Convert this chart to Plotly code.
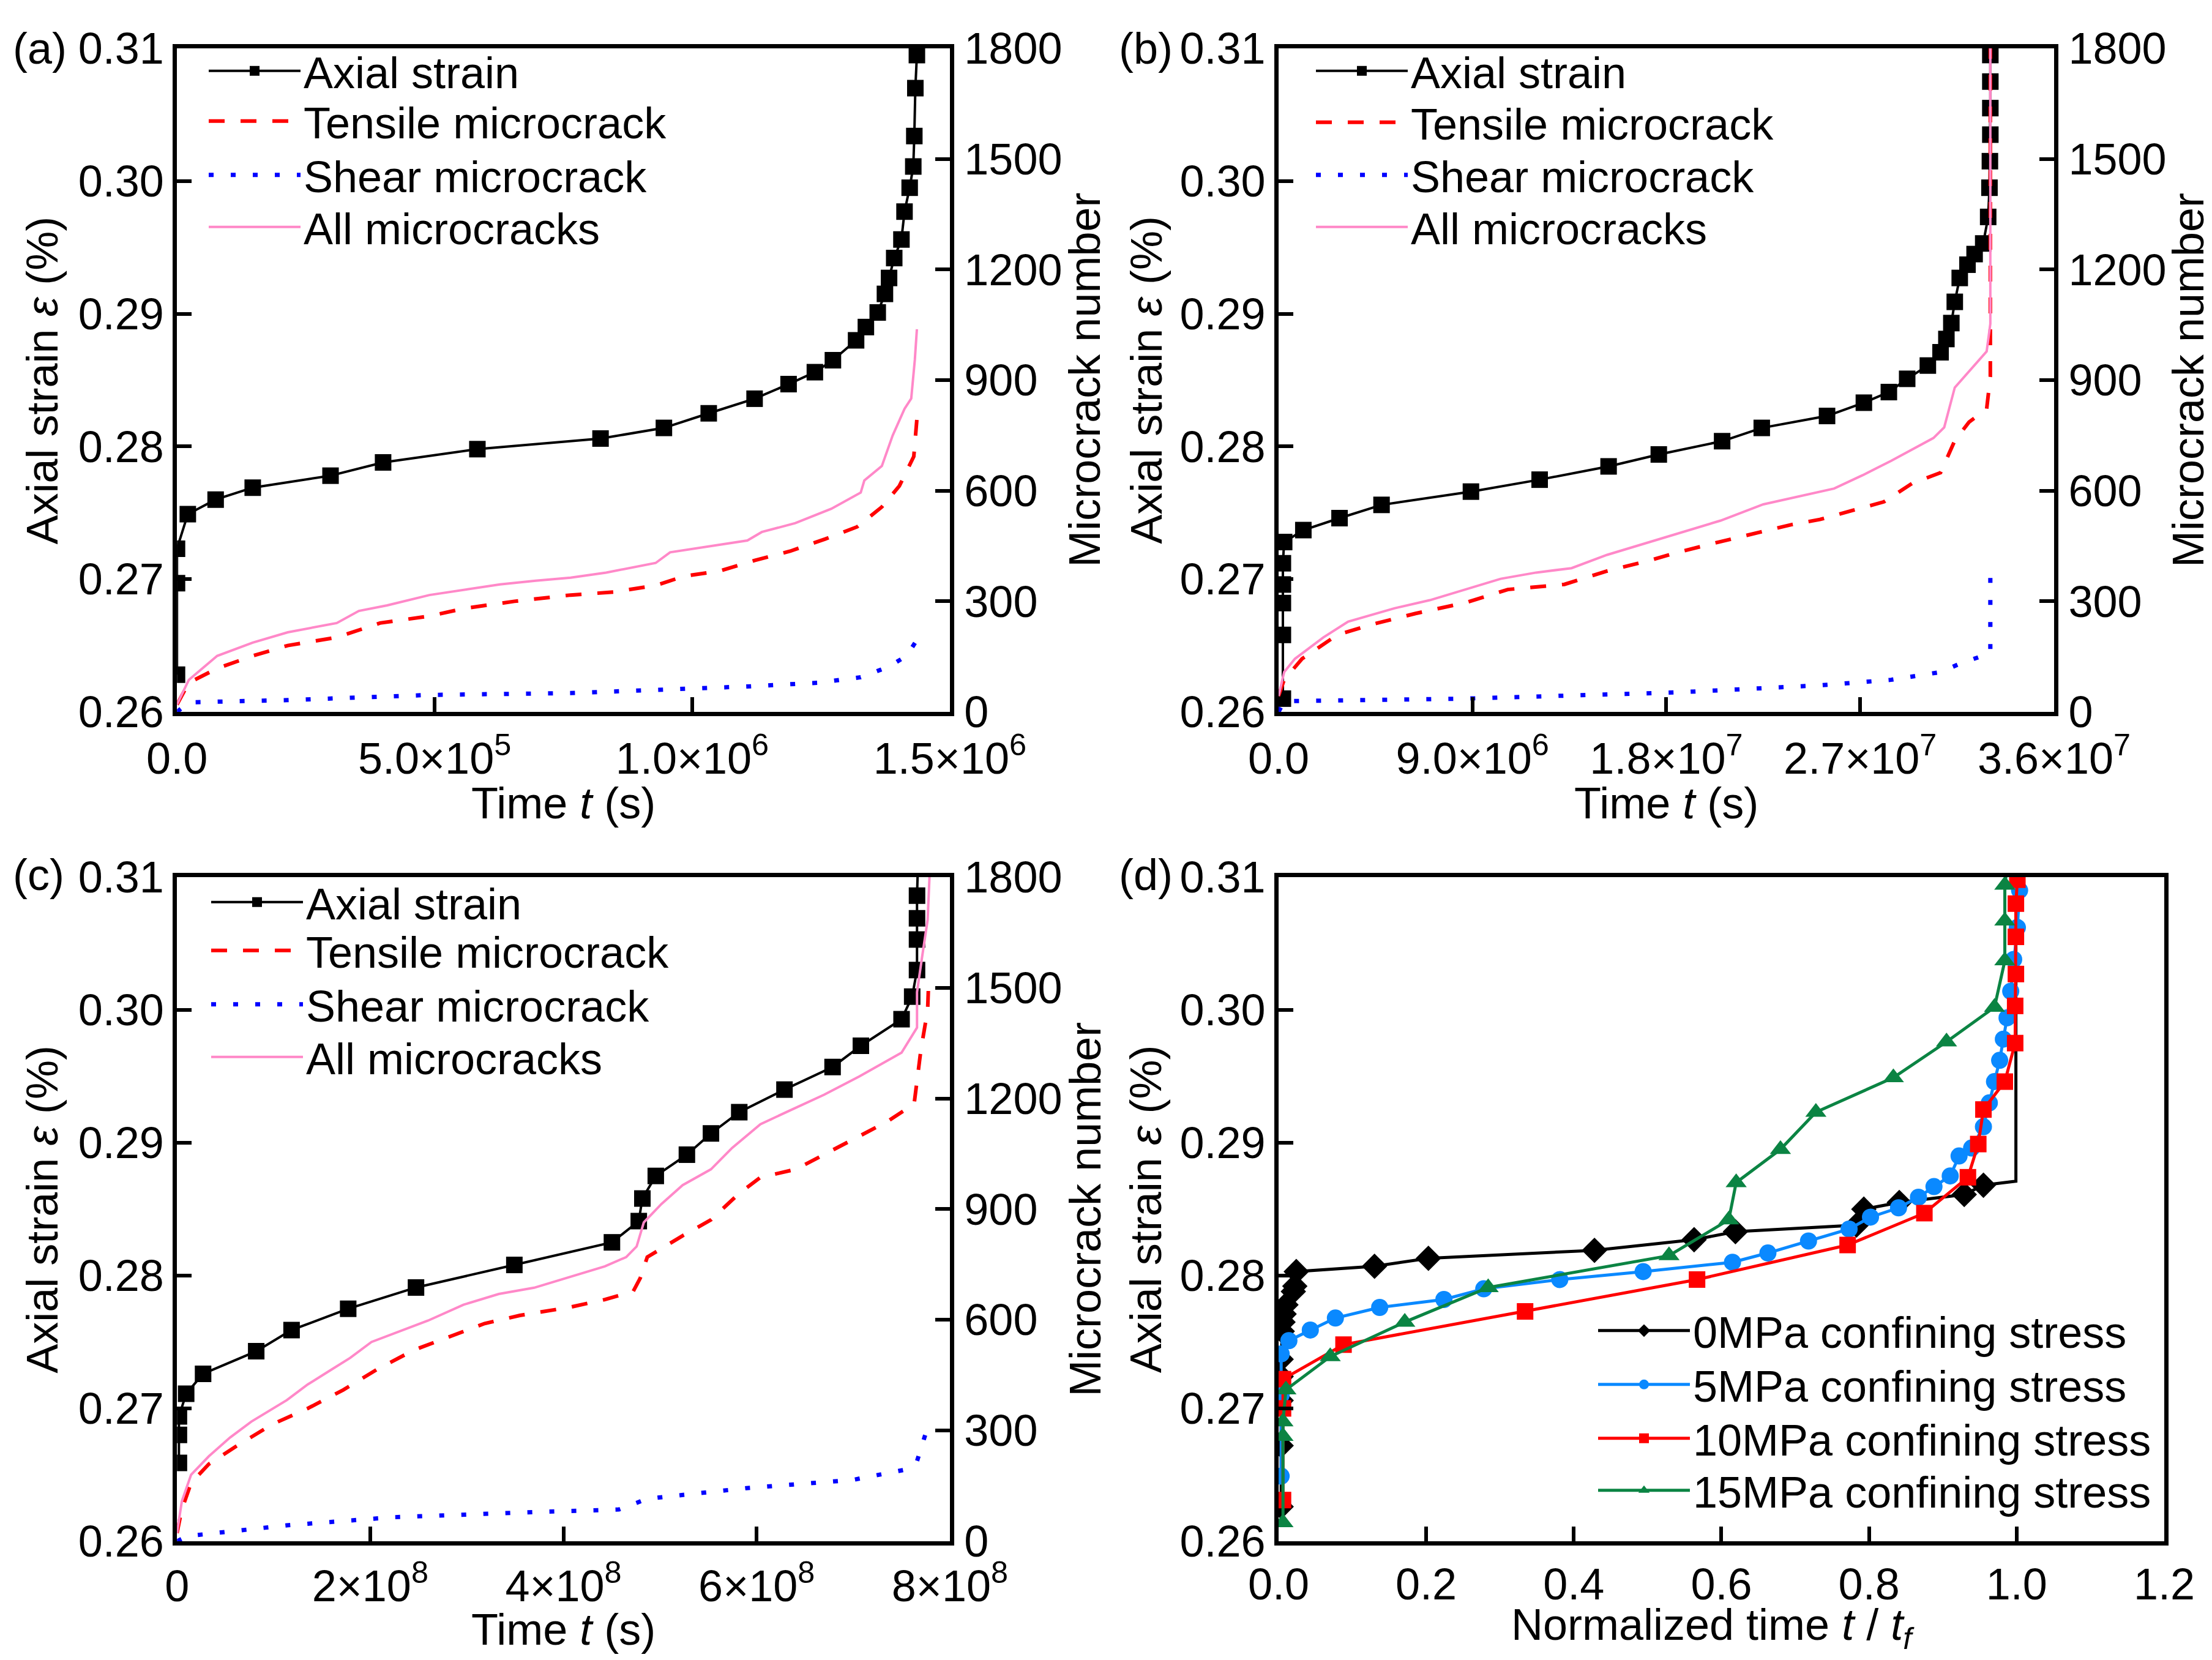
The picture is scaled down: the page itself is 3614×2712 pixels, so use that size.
import plotly.graph_objects as go

# ---------------- panel (a) ----------------
a_strain_t = [0, 0, 0, 2.1e4, 7.5e4, 1.47e5, 2.98e5, 4.0e5, 5.83e5, 8.22e5, 9.45e5, 1.032e6, 1.121e6,
              1.187e6, 1.238e6, 1.273e6, 1.318e6, 1.337e6, 1.360e6, 1.374e6, 1.382e6, 1.392e6, 1.406e6,
              1.412e6, 1.422e6, 1.429e6, 1.431e6, 1.433e6, 1.436e6, 1.437e6]
a_strain_e = [0.2628, 0.2697, 0.2723, 0.2749, 0.2760, 0.2769, 0.2778, 0.2788, 0.2798, 0.2806, 0.2814, 0.2825,
              0.2836, 0.2847, 0.2856, 0.2865, 0.2880, 0.2890, 0.2901, 0.2915, 0.2927, 0.2942, 0.2956,
              0.2977, 0.2995, 0.3011, 0.3034, 0.3070, 0.3095, 0.3120]
a_tensile_t = [0, 2.3e4, 7.8e4, 1.47e5, 2.15e5, 3.1e5, 3.94e5, 4.9e5, 5.59e5, 6.55e5, 7.64e5, 8.47e5,
               9.29e5, 9.84e5, 1.053e6, 1.121e6, 1.19e6, 1.258e6, 1.32e6, 1.368e6, 1.402e6, 1.43e6, 1.436e6]
a_tensile_n = [20, 79, 118, 152, 180, 202, 241, 260, 281, 300, 317, 325, 343, 368, 382, 411, 436, 469,
               502, 556, 613, 693, 794]
a_shear_t = [0, 2.3e4, 2.15e5, 4.9e5, 7.64e5, 9.57e5, 1.107e6, 1.244e6, 1.327e6, 1.382e6, 1.416e6, 1.436e6]
a_shear_n = [0, 26, 32, 46, 51, 61, 69, 79, 94, 123, 152, 195]
a_all_t = [0, 2.3e4, 7.8e4, 1.47e5, 2.15e5, 3.1e5, 3.53e5, 4.08e5, 4.9e5, 5.59e5, 6.27e5, 6.96e5, 7.64e5,
           8.33e5, 9.29e5, 9.57e5, 1.025e6, 1.107e6, 1.135e6, 1.2e6, 1.27e6, 1.327e6, 1.334e6, 1.368e6,
           1.389e6, 1.412e6, 1.425e6, 1.432e6, 1.436e6]
a_all_n = [20, 87, 152, 188, 216, 241, 274, 289, 317, 332, 346, 356, 364, 378, 404, 433, 447, 465, 488,
           512, 551, 595, 628, 667, 750, 822, 850, 955, 1038]

# ---------------- panel (b) ----------------
b_strain_t = [2e5, 2e5, 2e5, 2e5, 2e5, 2.6e5, 1.15e6, 2.83e6, 4.78e6, 8.93e6, 1.212e7, 1.532e7, 1.765e7,
              2.059e7, 2.243e7, 2.546e7, 2.717e7, 2.833e7, 2.918e7, 3.014e7, 3.073e7, 3.1e7, 3.123e7,
              3.139e7, 3.162e7, 3.198e7, 3.231e7, 3.271e7, 3.294e7, 3.300e7, 3.302e7, 3.304e7, 3.304e7,
              3.304e7, 3.304e7, 3.304e7, 3.304e7]
b_strain_e = [0.2610, 0.2658, 0.2682, 0.2696, 0.2712, 0.2728, 0.2737, 0.2746, 0.2756, 0.2766, 0.2775,
              0.2785, 0.2794, 0.2804, 0.2814, 0.2823, 0.2833, 0.2841, 0.2851, 0.2861, 0.2871, 0.2881,
              0.2893, 0.2909, 0.2927, 0.2937, 0.2945, 0.2953, 0.2973, 0.2995, 0.3015, 0.3035, 0.3055,
              0.3075, 0.3095, 0.3110, 0.3130]
b_tensile_t = [0, 2.6e5, 1.09e6, 2.73e6, 4.38e6, 6.36e6, 8.66e6, 1.064e7, 1.327e7, 1.525e7, 1.723e7,
               1.854e7, 2.052e7, 2.25e7, 2.381e7, 2.513e7, 2.678e7, 2.81e7, 2.941e7, 3.073e7, 3.139e7,
               3.205e7, 3.287e7, 3.304e7, 3.304e7]
b_tensile_n = [43, 87, 144, 209, 238, 267, 296, 332, 346, 382, 411, 433, 462, 491, 508, 522, 548, 570,
               620, 649, 736, 786, 822, 909, 1900]
b_shear_t = [0, 2.6e5, 8.66e6, 1.854e7, 2.513e7, 2.843e7, 3.073e7, 3.172e7, 3.304e7, 3.304e7]
b_shear_n = [0, 29, 36, 53, 72, 87, 108, 133, 159, 404]
b_all_t = [0, 2.6e5, 7.6e5, 2.08e6, 3.23e6, 5.37e6, 7.02e6, 8.66e6, 1.031e7, 1.196e7, 1.36e7, 1.525e7,
           1.69e7, 1.854e7, 2.052e7, 2.25e7, 2.414e7, 2.579e7, 2.711e7, 2.843e7, 3.04e7, 3.09e7, 3.139e7,
           3.205e7, 3.287e7, 3.304e7, 3.304e7]
b_all_n = [43, 108, 144, 202, 245, 281, 303, 332, 361, 378, 390, 426, 455, 483, 519, 563, 584, 606, 642,
           681, 743, 772, 880, 924, 978, 1053, 1900]

# ---------------- panel (c) ----------------
c_strain_t = [2e6, 2e6, 2e6, 9.5e6, 2.7e7, 8.2e7, 1.186e8, 1.772e8, 2.474e8, 3.492e8, 4.502e8, 4.78e8,
              4.817e8, 4.956e8, 5.278e8, 5.527e8, 5.82e8, 6.288e8, 6.786e8, 7.079e8, 7.50e8, 7.61e8,
              7.66e8, 7.66e8, 7.66e8, 7.66e8, 7.67e8]
c_strain_e = [0.2659, 0.2680, 0.2694, 0.2711, 0.2726, 0.2743, 0.2759, 0.2775, 0.2791, 0.2808, 0.2825,
              0.2841, 0.2858, 0.2875, 0.2891, 0.2907, 0.2923, 0.2940, 0.2957, 0.2973, 0.2993, 0.3010,
              0.3030, 0.3053, 0.3069, 0.3086, 0.3110]
c_tensile_t = [0, 5e6, 1.46e7, 3.29e7, 6.22e7, 9.88e7, 1.354e8, 1.72e8, 2.086e8, 2.452e8, 2.818e8, 3.184e8,
               3.55e8, 4.063e8, 4.429e8, 4.722e8, 4.795e8, 4.868e8, 5.234e8, 5.527e8, 5.82e8, 6.039e8,
               6.405e8, 6.771e8, 6.991e8, 7.357e8, 7.63e8, 7.66e8, 7.70e8, 7.77e8, 7.78e8]
c_tensile_n = [22, 86, 158, 209, 259, 317, 360, 410, 468, 518, 554, 590, 612, 634, 655, 677, 713, 770,
               828, 871, 943, 986, 1008, 1058, 1087, 1138, 1185, 1246, 1331, 1440, 1513]
c_shear_t = [0, 1.1e7, 1.135e8, 2.233e8, 3.697e8, 4.575e8, 4.868e8, 5.893e8, 6.991e8, 7.54e8, 7.66e8, 7.77e8]
c_shear_n = [0, 14, 43, 65, 79, 86, 115, 144, 166, 194, 217, 309]
c_all_t = [0, 5e6, 1.46e7, 3.29e7, 5.49e7, 7.69e7, 1.135e8, 1.354e8, 1.574e8, 1.793e8, 2.013e8, 2.306e8,
           2.599e8, 2.965e8, 3.331e8, 3.697e8, 4.063e8, 4.429e8, 4.649e8, 4.758e8, 4.832e8, 5.015e8,
           5.234e8, 5.527e8, 5.746e8, 6.039e8, 6.332e8, 6.698e8, 7.064e8, 7.357e8, 7.50e8, 7.66e8,
           7.66e8, 7.71e8, 7.77e8, 7.79e8]
c_all_n = [22, 108, 180, 230, 281, 324, 382, 425, 461, 497, 540, 569, 598, 641, 670, 687, 716, 745, 770,
           799, 864, 914, 965, 1008, 1066, 1130, 1166, 1210, 1260, 1303, 1324, 1392, 1488, 1579, 1684, 1805]

# ---------------- panel (d) ----------------
d0_t = [0.0035, 0.0035, 0.0035, 0.0035, 0.0035, 0.005, 0.006, 0.0075, 0.010, 0.020, 0.022, 0.024, 0.130,
        0.203, 0.428, 0.563, 0.619, 0.783, 0.793, 0.841, 0.929, 0.955]
d0_e = [0.2626, 0.2672, 0.2706, 0.2724, 0.2737, 0.2758, 0.2765, 0.2771, 0.2778, 0.2788, 0.2792, 0.2803,
        0.2807, 0.2813, 0.2819, 0.2827, 0.2833, 0.2838, 0.2850, 0.2855, 0.2861, 0.2868]
d0_tail_t = [0.955, 0.999, 0.999]
d0_tail_e = [0.2868, 0.2871, 0.3120]
d5_t = [0.0035, 0.0035, 0.0035, 0.014, 0.043, 0.077, 0.137, 0.224, 0.278, 0.381, 0.494, 0.615, 0.663,
        0.718, 0.773, 0.802, 0.840, 0.867, 0.888, 0.910, 0.922, 0.939, 0.955, 0.963, 0.970, 0.977, 0.982,
        0.987, 0.992, 0.996, 1.001, 1.004, 1.006]
d5_e = [0.2649, 0.2710, 0.2741, 0.2751, 0.2759, 0.2768, 0.2776, 0.2782, 0.2790, 0.2797, 0.2803, 0.2810,
        0.2817, 0.2826, 0.2835, 0.2844, 0.2851, 0.2859, 0.2867, 0.2875, 0.2890, 0.2896, 0.2912, 0.2930,
        0.2946, 0.2962, 0.2978, 0.2994, 0.3014, 0.3038, 0.3062, 0.3090, 0.3120]
d10_t = [0.006, 0.006, 0.006, 0.088, 0.334, 0.567, 0.771, 0.875, 0.934, 0.948, 0.955, 0.984, 0.998, 0.998,
         0.999, 0.999, 0.999, 1.001]
d10_e = [0.2631, 0.2700, 0.2722, 0.2748, 0.2773, 0.2797, 0.2823, 0.2847, 0.2874, 0.2899, 0.2925, 0.2946,
         0.2975, 0.3003, 0.3027, 0.3055, 0.3080, 0.3098]
d15_t = [0.006, 0.006, 0.006, 0.010, 0.070, 0.171, 0.284, 0.529, 0.610, 0.620, 0.680, 0.728, 0.833, 0.905,
         0.970, 0.984, 0.984, 0.984, 0.990]
d15_e = [0.2614, 0.2679, 0.2690, 0.2714, 0.2739, 0.2765, 0.2791, 0.2815, 0.2842, 0.2870, 0.2895, 0.2923,
         0.2949, 0.2976, 0.3002, 0.3037, 0.3067, 0.3094, 0.3120]

strain_ticks = [0.26, 0.27, 0.28, 0.29, 0.30, 0.31]
crack_ticks = [0, 300, 600, 900, 1200, 1500, 1800]
a_xticks = [0, 5e5, 1e6, 1.5e6]
a_xlabels = ["0.0", "5.0×10<sup>5</sup>", "1.0×10<sup>6</sup>", "1.5×10<sup>6</sup>"]
b_xticks = [0, 9e6, 1.8e7, 2.7e7, 3.6e7]
b_xlabels = ["0.0", "9.0×10<sup>6</sup>", "1.8×10<sup>7</sup>", "2.7×10<sup>7</sup>", "3.6×10<sup>7</sup>"]
c_xticks = [0, 2e8, 4e8, 6e8, 8e8]
c_xlabels = ["0", "2×10<sup>8</sup>", "4×10<sup>8</sup>", "6×10<sup>8</sup>", "8×10<sup>8</sup>"]
d_xticks = [0.0, 0.2, 0.4, 0.6, 0.8, 1.0, 1.2]

FS = 72
FONT = "Arial, Liberation Sans, sans-serif"
BLACK = "#000000"
RED = "#FF0000"
BLUE = "#0000FF"
PINK = "#FF88C8"
BLUE2 = "#0A89FF"
GREEN = "#0B8443"

W, H = 3614, 2712

fig = go.Figure()
legends = {}
leg_count = [0]


def new_legend(x_px, y_px):
    # one legend box per entry so the rows can sit at the reference spacing
    leg_count[0] += 1
    key = "legend" if leg_count[0] == 1 else "legend%d" % leg_count[0]
    legends[key] = dict(x=x_px / W, y=1 - y_px / H, xanchor="left", yanchor="middle",
                        bgcolor="rgba(0,0,0,0)", itemwidth=150,
                        font=dict(size=FS, family=FONT, color=BLACK))
    return key


def add_panel(xa, ya, yr, leg_x, leg_rows, st, se, tt, tn, sht, shn, alt, aln):
    fig.add_trace(go.Scatter(x=st, y=se, name="Axial strain", xaxis=xa, yaxis=ya,
                             legend=new_legend(leg_x, leg_rows[0]),
                             mode="lines+markers", line=dict(color=BLACK, width=4),
                             marker=dict(symbol="square", size=27, color=BLACK)))
    fig.add_trace(go.Scatter(x=tt, y=tn, name="Tensile microcrack", xaxis=xa, yaxis=yr,
                             legend=new_legend(leg_x, leg_rows[1]),
                             mode="lines", line=dict(color=RED, width=6, dash="26px,26px")))
    fig.add_trace(go.Scatter(x=sht, y=shn, name="Shear microcrack", xaxis=xa, yaxis=yr,
                             legend=new_legend(leg_x, leg_rows[2]),
                             mode="lines", line=dict(color=BLUE, width=7, dash="8px,28px")))
    fig.add_trace(go.Scatter(x=alt, y=aln, name="All microcracks", xaxis=xa, yaxis=yr,
                             legend=new_legend(leg_x, leg_rows[3]),
                             mode="lines", line=dict(color=PINK, width=4)))


add_panel("x", "y", "y5", 328, [108, 190, 278, 363], a_strain_t, a_strain_e, a_tensile_t, a_tensile_n,
          a_shear_t, a_shear_n, a_all_t, a_all_n)
add_panel("x2", "y2", "y6", 2137, [108, 192, 278, 363], b_strain_t, b_strain_e, b_tensile_t, b_tensile_n,
          b_shear_t, b_shear_n, b_all_t, b_all_n)
add_panel("x3", "y3", "y7", 332, [1466, 1545, 1633, 1719], c_strain_t, c_strain_e, c_tensile_t,
          c_tensile_n, c_shear_t, c_shear_n, c_all_t, c_all_n)

# panel (d)
fig.add_trace(go.Scatter(x=d0_tail_t, y=d0_tail_e, xaxis="x4", yaxis="y4", mode="lines",
                         line=dict(color=BLACK, width=5), showlegend=False))
d_rows = [2166, 2254, 2342, 2427]
for row, (t, e, name, col, sym, sz) in zip(d_rows, [
        (d0_t, d0_e, "0MPa confining stress", BLACK, "diamond", 32),
        (d5_t, d5_e, "5MPa confining stress", BLUE2, "circle", 28),
        (d10_t, d10_e, "10MPa confining stress", RED, "square", 27),
        (d15_t, d15_e, "15MPa confining stress", GREEN, "triangle-up", 30)]):
    fig.add_trace(go.Scatter(x=t, y=e, name=name, xaxis="x4", yaxis="y4", legend=new_legend(2598, row),
                             mode="lines+markers", line=dict(color=col, width=5),
                             marker=dict(symbol=sym, size=sz, color=col)))

axis_common = dict(showline=True, linecolor=BLACK, linewidth=7, ticks="inside", ticklen=24,
                   tickwidth=6, tickcolor=BLACK, showgrid=False, zeroline=False, automargin=False,
                   tickfont=dict(size=FS, family=FONT, color=BLACK))

xdom_l = [0.0778, 0.4272]
xdom_r = [0.5758, 0.9264]
xdom_d = [0.5758, 0.9762]
ydom_t = [0.5741, 0.9738]
ydom_b = [0.0745, 0.4746]

layout = dict(
    width=W, height=H, paper_bgcolor="white", plot_bgcolor="white",
    margin=dict(l=0, r=0, t=0, b=0), font=dict(family=FONT, size=FS, color=BLACK),
    xaxis=dict(domain=xdom_l, anchor="y", range=[0, 1.5e6], tickvals=a_xticks, ticktext=a_xlabels,
               mirror=True, ticklabelstandoff=8, **axis_common),
    xaxis2=dict(domain=xdom_r, anchor="y2", range=[0, 3.6e7], tickvals=b_xticks, ticktext=b_xlabels,
                mirror=True, ticklabelstandoff=8, **axis_common),
    xaxis3=dict(domain=xdom_l, anchor="y3", range=[0, 8e8], tickvals=c_xticks, ticktext=c_xlabels,
                mirror=True, ticklabelstandoff=5, **axis_common),
    xaxis4=dict(domain=xdom_d, anchor="y4", range=[0, 1.2], tickvals=d_xticks, tickformat=".1f",
                mirror=True, ticklabelstandoff=2, **axis_common),
)
for k, dom, xa in [("yaxis", ydom_t, "x"), ("yaxis2", ydom_t, "x2"), ("yaxis3", ydom_b, "x3"),
                   ("yaxis4", ydom_b, "x4")]:
    layout[k] = dict(domain=dom, anchor=xa, range=[0.26, 0.31], tickvals=strain_ticks, tickformat=".2f",
                     mirror=True, ticklabelstandoff=0, **axis_common)
for k, ov, xa in [("yaxis5", "y", "x"), ("yaxis6", "y2", "x2"), ("yaxis7", "y3", "x3")]:
    layout[k] = dict(overlaying=ov, anchor=xa, side="right", range=[0, 1800], tickvals=crack_ticks,
                     ticklabelstandoff=2, **axis_common)

layout.update(legends)
fig.update_layout(**layout)

# panel letters
for lab, x, y in [("(a)", 0.003, 0.974), ("(b)", 0.503, 0.974), ("(c)", 0.003, 0.476), ("(d)", 0.503, 0.476)]:
    fig.add_annotation(text=lab, x=x, y=y, xref="paper", yref="paper", xanchor="left", yanchor="middle",
                       showarrow=False, font=dict(size=FS, family=FONT, color=BLACK))

# vertical axis titles
ymid_t = sum(ydom_t) / 2
ymid_b = sum(ydom_b) / 2
for txt, x, y in [("Axial strain <i>ε</i> (%)", 0.0170, ymid_t), ("Axial strain <i>ε</i> (%)", 0.5160, ymid_t),
                  ("Axial strain <i>ε</i> (%)", 0.0170, ymid_b), ("Axial strain <i>ε</i> (%)", 0.5160, ymid_b),
                  ("Microcrack number", 0.4880, ymid_t), ("Microcrack number", 0.9870, ymid_t),
                  ("Microcrack number", 0.4885, ymid_b)]:
    fig.add_annotation(text=txt, x=x, y=y, xref="paper", yref="paper", xanchor="center", yanchor="middle",
                       textangle=-90, showarrow=False, font=dict(size=FS, family=FONT, color=BLACK))

# horizontal axis titles (anchored by their top edge)
for txt, x, y in [("Time <i>t</i> (s)", sum(xdom_l) / 2, 1 - 1262 / H),
                  ("Time <i>t</i> (s)", sum(xdom_r) / 2, 1 - 1262 / H),
                  ("Time <i>t</i> (s)", sum(xdom_l) / 2, 1 - 2612 / H),
                  ("Normalized time <i>t</i> / <i>t</i><sub><i>f</i></sub>", 0.772, 1 - 2604 / H)]:
    fig.add_annotation(text=txt, x=x, y=y, xref="paper", yref="paper", xanchor="center", yanchor="top",
                       showarrow=False, font=dict(size=FS, family=FONT, color=BLACK))

fig.write_html("out.html")
